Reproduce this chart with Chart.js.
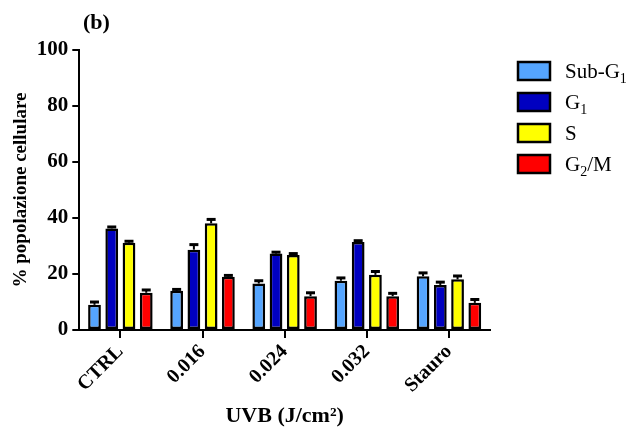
<!DOCTYPE html>
<html>
<head>
<meta charset="utf-8">
<script src="https://cdn.jsdelivr.net/npm/chart.js@4"></script>
<style>
  body { margin: 0; background: #fff; }
  #wrap { width: 634px; height: 430px; }
</style>
</head>
<body>
<div id="wrap"><canvas id="barChart"></canvas></div>
<script>
const labels = ["CTRL", "0.016", "0.024", "0.032", "Stauro"];
const seriesNames = ["Sub-G₁", "G₁", "S", "G₂/M"];
// parties de la légende : texte, indice, suite
const legendMain = ["Sub-G", "G", "S", "G"];
const legendSub = ["1", "1", "", "2"];
const legendRest = ["", "", "", "/M"];
const colors = ["#55A5FF", "#0000C0", "#FFFF00", "#FF0000"];
const subG1 = [9, 14, 16.6, 17.6, 19.2];
const g1 = [36.3, 28.7, 27.3, 31.4, 16.1];
const s = [31.2, 38.1, 26.8, 19.7, 18.1];
const g2m = [13.3, 19, 12.1, 12.1, 9.7];
const errSubG1 = [1, 0.5, 1, 1, 1.2];
const errG1 = [0.5, 1.8, 0.5, 0.5, 1];
const errS = [0.5, 1.4, 0.5, 1.2, 1.2];
const errG2m = [1, 0.5, 1.2, 1, 1.2];

const serif = "'Liberation Serif', 'Times New Roman', serif";

// barres d'erreur (SEM) dessinées au-dessus des barres
const errorBars = {
  id: "errorBars",
  afterDatasetsDraw(chart) {
    const ctx = chart.ctx;
    const yScale = chart.scales.y;
    ctx.save();
    ctx.strokeStyle = "#000";
    chart.data.datasets.forEach((ds, i) => {
      const meta = chart.getDatasetMeta(i);
      meta.data.forEach((bar, j) => {
        const top = yScale.getPixelForValue(ds.data[j] + ds.errors[j]);
        ctx.lineWidth = 2;
        ctx.beginPath();
        ctx.moveTo(bar.x, bar.y);
        ctx.lineTo(bar.x, top);
        ctx.stroke();
        ctx.lineWidth = 3;
        ctx.beginPath();
        ctx.moveTo(bar.x - 4.5, top);
        ctx.lineTo(bar.x + 4.5, top);
        ctx.stroke();
      });
    });
    ctx.restore();
  },
};

// légende à droite avec indices + étiquette du panneau
const sideLegend = {
  id: "sideLegend",
  afterDraw(chart) {
    const ctx = chart.ctx;
    ctx.save();
    ctx.fillStyle = "#000";
    ctx.font = "bold 22px " + serif;
    ctx.textBaseline = "alphabetic";
    ctx.fillText("(b)", 83, 29);

    chart.data.datasets.forEach((ds, i) => {
      const y = 62 + i * 31;
      ctx.fillStyle = ds.backgroundColor;
      ctx.fillRect(518, y, 32, 18);
      ctx.strokeStyle = "#000";
      ctx.lineWidth = 2.5;
      ctx.strokeRect(518, y, 32, 18);

      let x = 565;
      const base = y + 16;
      ctx.fillStyle = "#000";
      ctx.font = "21px " + serif;
      ctx.fillText(legendMain[i], x, base);
      x += ctx.measureText(legendMain[i]).width;
      if (legendSub[i]) {
        ctx.font = "14px " + serif;
        ctx.fillText(legendSub[i], x, base + 5);
        x += ctx.measureText(legendSub[i]).width;
      }
      if (legendRest[i]) {
        ctx.font = "21px " + serif;
        ctx.fillText(legendRest[i], x, base);
      }
    });
    ctx.restore();
  },
};

const series = [subG1, g1, s, g2m];
const errors = [errSubG1, errG1, errS, errG2m];

const barChart = document.querySelector("#barChart");
const myChart = new Chart(barChart, {
  type: "bar",
  data: {
    labels: labels,
    datasets: series.map((d, i) => ({
      label: seriesNames[i],
      data: d,
      errors: errors[i],
      backgroundColor: colors[i],
      borderColor: "#000",
      borderWidth: 2.5,
      borderSkipped: false,
      categoryPercentage: 0.84,
      barPercentage: 0.74,
    })),
  },
  options: {
    responsive: true,
    maintainAspectRatio: false,
    animation: false,
    layout: {
      padding: { top: 50, left: 6, right: 144, bottom: 0 },
    },
    plugins: {
      title: { display: false },
      tooltip: { enabled: false },
      legend: { display: false },
    },
    scales: {
      x: {
        grid: {
          offset: false,
          drawOnChartArea: false,
          drawTicks: true,
          tickLength: 8,
          color: "#000",
          lineWidth: 2,
        },
        border: { display: true, color: "#000", width: 2 },
        ticks: {
          color: "#000",
          maxRotation: 45,
          minRotation: 45,
          padding: 2,
          font: { family: serif, size: 20, weight: "bold" },
        },
        title: {
          display: true,
          text: "UVB (J/cm²)",
          color: "#000",
          padding: { top: 4, bottom: 0 },
          font: { family: serif, size: 22, weight: "bold" },
        },
      },
      y: {
        min: 0,
        max: 100,
        grid: {
          drawOnChartArea: false,
          drawTicks: true,
          tickLength: 7,
          color: "#000",
          lineWidth: 2,
        },
        border: { display: true, color: "#000", width: 2 },
        ticks: {
          stepSize: 20,
          color: "#000",
          padding: 4,
          font: { family: serif, size: 21, weight: "bold" },
        },
        title: {
          display: true,
          text: "% popolazione cellulare",
          color: "#000",
          padding: { top: 4, bottom: 0 },
          font: { family: serif, size: 19, weight: "bold" },
        },
      },
    },
  },
  plugins: [errorBars, sideLegend],
});
</script>
</body>
</html>
